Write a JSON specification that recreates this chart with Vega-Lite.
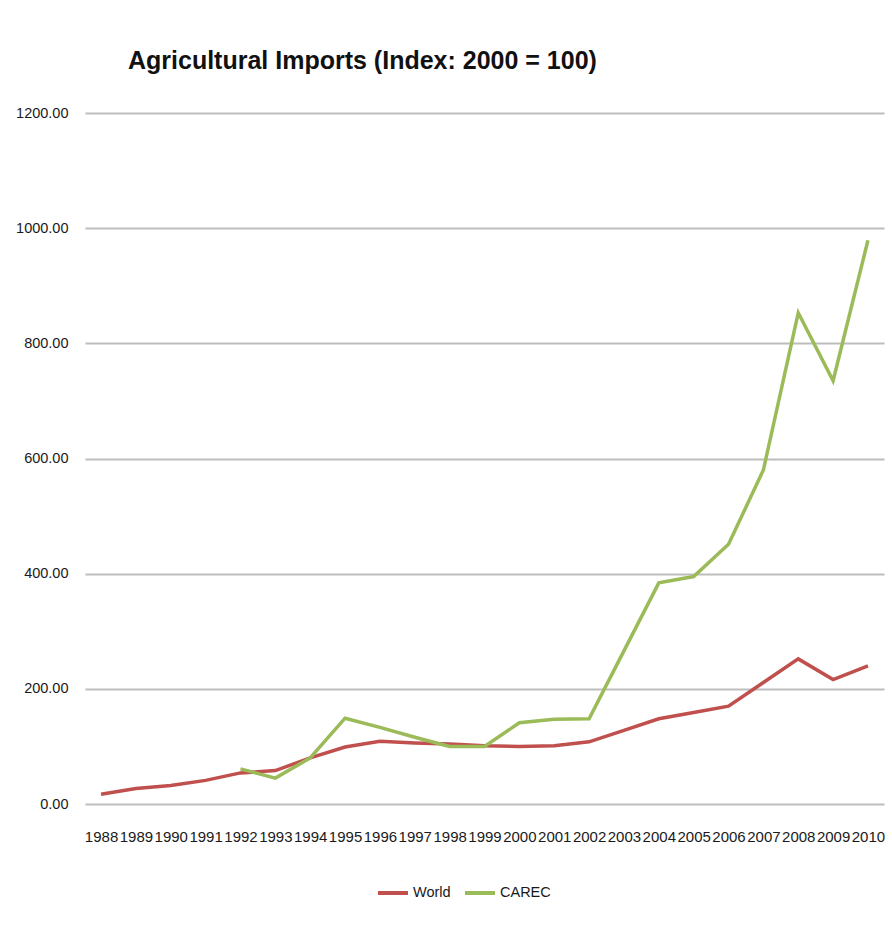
{
  "$schema": "https://vega.github.io/schema/vega-lite/v6.json",
  "autosize": {"type": "none"},
  "padding": {"left": 85, "top": 113, "right": 8, "bottom": 121},
  "width": 799,
  "height": 691,
  "background": "white",
  "title": {
    "text": "Agricultural Imports (Index: 2000 = 100)",
    "anchor": "start",
    "frame": "group",
    "dx": 43,
    "offset": 11,
    "baseline": "alphabetic",
    "font": "Liberation Sans",
    "fontSize": 25,
    "fontWeight": "bold",
    "color": "#111111"
  },
  "data": {
    "values": [
      {"year": "1988", "series": "World", "value": 17},
      {"year": "1989", "series": "World", "value": 27},
      {"year": "1990", "series": "World", "value": 32},
      {"year": "1991", "series": "World", "value": 41},
      {"year": "1992", "series": "World", "value": 54},
      {"year": "1993", "series": "World", "value": 58},
      {"year": "1994", "series": "World", "value": 80},
      {"year": "1995", "series": "World", "value": 99},
      {"year": "1996", "series": "World", "value": 109},
      {"year": "1997", "series": "World", "value": 106},
      {"year": "1998", "series": "World", "value": 104},
      {"year": "1999", "series": "World", "value": 101},
      {"year": "2000", "series": "World", "value": 100},
      {"year": "2001", "series": "World", "value": 101},
      {"year": "2002", "series": "World", "value": 108},
      {"year": "2003", "series": "World", "value": 128},
      {"year": "2004", "series": "World", "value": 148},
      {"year": "2005", "series": "World", "value": 159},
      {"year": "2006", "series": "World", "value": 170},
      {"year": "2007", "series": "World", "value": 211},
      {"year": "2008", "series": "World", "value": 252},
      {"year": "2009", "series": "World", "value": 216},
      {"year": "2010", "series": "World", "value": 240},
      {"year": "1992", "series": "CAREC", "value": 61},
      {"year": "1993", "series": "CAREC", "value": 45},
      {"year": "1994", "series": "CAREC", "value": 80},
      {"year": "1995", "series": "CAREC", "value": 149},
      {"year": "1996", "series": "CAREC", "value": 133},
      {"year": "1997", "series": "CAREC", "value": 116},
      {"year": "1998", "series": "CAREC", "value": 100},
      {"year": "1999", "series": "CAREC", "value": 100},
      {"year": "2000", "series": "CAREC", "value": 141},
      {"year": "2001", "series": "CAREC", "value": 147},
      {"year": "2002", "series": "CAREC", "value": 148},
      {"year": "2003", "series": "CAREC", "value": 266},
      {"year": "2004", "series": "CAREC", "value": 384},
      {"year": "2005", "series": "CAREC", "value": 395},
      {"year": "2006", "series": "CAREC", "value": 451},
      {"year": "2007", "series": "CAREC", "value": 580},
      {"year": "2008", "series": "CAREC", "value": 853},
      {"year": "2009", "series": "CAREC", "value": 735},
      {"year": "2010", "series": "CAREC", "value": 979}
    ]
  },
  "mark": {"type": "line", "strokeWidth": 3.5, "strokeJoin": "miter"},
  "encoding": {
    "x": {
      "field": "year",
      "type": "ordinal",
      "scale": {"type": "point", "padding": 0.46},
      "axis": {
        "title": null,
        "labelAngle": 0,
        "labelOverlap": false,
        "labelBaseline": "top",
        "domain": false,
        "ticks": false,
        "tickSize": 0,
        "labelPadding": 25,
        "labelFont": "Liberation Sans",
        "labelFontSize": 15,
        "labelColor": "#1a1a1a"
      }
    },
    "y": {
      "field": "value",
      "type": "quantitative",
      "scale": {"domain": [0, 1200], "nice": false},
      "axis": {
        "title": null,
        "values": [0, 200, 400, 600, 800, 1000, 1200],
        "format": ".2f",
        "domain": false,
        "ticks": false,
        "tickSize": 0,
        "labelPadding": 17,
        "grid": true,
        "gridColor": "#BDBDBD",
        "gridWidth": 2,
        "labelFont": "Liberation Sans",
        "labelFontSize": 14.5,
        "labelColor": "#1a1a1a"
      }
    },
    "color": {
      "field": "series",
      "type": "nominal",
      "scale": {"domain": ["World", "CAREC"], "range": ["#C0504D", "#9BBB59"]},
      "legend": {
        "title": null,
        "orient": "none",
        "direction": "horizontal",
        "legendX": 291,
        "legendY": 763,
        "symbolType": "stroke",
        "symbolSize": 900,
        "symbolStrokeWidth": 4,
        "labelOffset": 3,
        "columnPadding": 6,
        "labelFont": "Liberation Sans",
        "labelFontSize": 14.5,
        "labelColor": "#1a1a1a"
      }
    }
  },
  "config": {
    "view": {"stroke": null}
  }
}
